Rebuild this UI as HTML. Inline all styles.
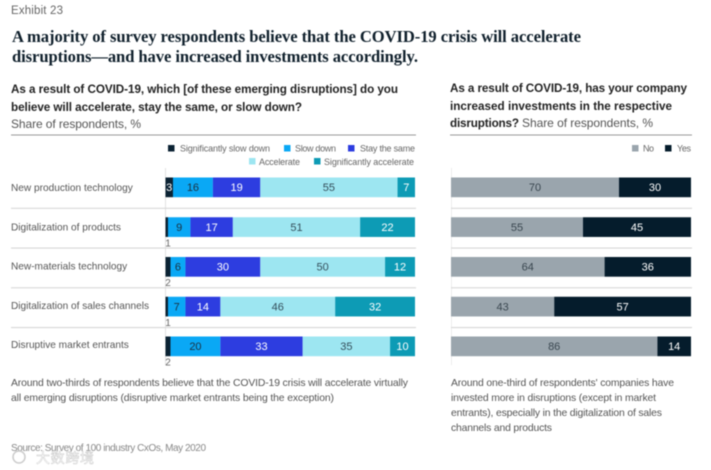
<!DOCTYPE html>
<html lang="en">
<head>
<meta charset="utf-8">
<title>Exhibit 23</title>
<style>
html,body{margin:0;padding:0;background:#fff;width:711px;height:470px;overflow:hidden}
svg{display:block;filter:blur(0.4px)}
text{font-family:"Liberation Sans","Noto Sans CJK SC",sans-serif}
.title{font-family:"Liberation Serif",serif;font-weight:700;font-size:16.6px;fill:#10202c}
.sub{font-size:11.7px;font-weight:700;fill:#222}
.share{font-size:12px;fill:#555}
.leg{font-size:9px;fill:#666}
.note{font-size:10.4px;fill:#555}
</style>
</head>
<body>
<svg id="chart" xmlns="http://www.w3.org/2000/svg" width="711" height="470" viewBox="0 0 711 470">
  <text x="11" y="14" font-size="11.5" fill="#666" textLength="52">Exhibit 23</text>
  <text class="title" x="12" y="42" textLength="569">A majority of survey respondents believe that the COVID-19 crisis will accelerate</text>
  <text class="title" x="12" y="62" textLength="406">disruptions—and have increased investments accordingly.</text>

  <text class="sub" x="11" y="93" textLength="387">As a result of COVID-19, which [of these emerging disruptions] do you</text>
  <text class="sub" x="11" y="111" textLength="291">believe will accelerate, stay the same, or slow down?</text>
  <text class="share" x="11" y="128" textLength="130">Share of respondents, %</text>
  <rect x="11" y="134.5" width="405" height="1" fill="#999"/>

  <text class="sub" x="450" y="92" textLength="237">As a result of COVID-19, has your company</text>
  <text class="sub" x="450" y="110" textLength="222">increased investments in the respective</text>
  <text class="sub" x="450" y="127" textLength="69">disruptions?</text>
  <text class="share" x="522" y="127" textLength="131">Share of respondents, %</text>
  <rect x="450" y="134.5" width="242" height="1" fill="#999"/>

  <g>
    <rect x="168" y="145" width="6.5" height="6.5" fill="#0b2233"/>
    <text class="leg" x="180" y="151.5" textLength="90">Significantly slow down</text>
    <rect x="284" y="145" width="6.5" height="6.5" fill="#0aa8f5"/>
    <text class="leg" x="295" y="151.5" textLength="41">Slow down</text>
    <rect x="348" y="145" width="6.5" height="6.5" fill="#2d3de0"/>
    <text class="leg" x="360" y="151.5" textLength="55">Stay the same</text>
    <rect x="249" y="158" width="6.5" height="6.5" fill="#9de6f1"/>
    <text class="leg" x="259" y="165" textLength="41">Accelerate</text>
    <rect x="314" y="158" width="6.5" height="6.5" fill="#0d9bb5"/>
    <text class="leg" x="324" y="165" textLength="90">Significantly accelerate</text>
  </g>
  <g>
    <rect x="632" y="145" width="6.5" height="6.5" fill="#9aa5ad"/>
    <text class="leg" x="643" y="151.5" textLength="11">No</text>
    <rect x="665" y="145" width="6.5" height="6.5" fill="#051c2c"/>
    <text class="leg" x="677" y="151.5" textLength="14">Yes</text>
  </g>

  <g id="plot"></g>

  <text class="note" x="11" y="386" textLength="397">Around two-thirds of respondents believe that the COVID-19 crisis will accelerate virtually</text>
  <text class="note" x="11" y="401" textLength="323">all emerging disruptions (disruptive market entrants being the exception)</text>
  <text class="note" x="451" y="386" textLength="223">Around one-third of respondents' companies have</text>
  <text class="note" x="451" y="401" textLength="205">invested more in disruptions (except in market</text>
  <text class="note" x="451" y="416" textLength="211">entrants), especially in the digitalization of sales</text>
  <text class="note" x="451" y="431" textLength="101">channels and products</text>
  <text x="11" y="451" font-size="10" fill="#888" textLength="195">Source: Survey of 100 industry CxOs, May 2020</text>
  <circle cx="19" cy="457" r="6" fill="none" stroke="#ccc" stroke-width="1.5"/>
  <text x="36" y="463" font-size="14" fill="#fff" stroke="#c4c4c4" stroke-width="0.4" textLength="58">大数跨境</text>
</svg>
<script>
const categories = ["New production technology", "Digitalization of products", "New-materials technology", "Digitalization of sales channels", "Disruptive market entrants"];
const significantlySlowDown = [3, 1, 2, 1, 2];
const slowDown = [16, 9, 6, 7, 20];
const stayTheSame = [19, 17, 30, 14, 33];
const accelerate = [55, 51, 50, 46, 35];
const significantlyAccelerate = [7, 22, 12, 32, 10];
const investNo = [70, 55, 64, 43, 86];
const investYes = [30, 45, 36, 57, 14];

const NS = "http://www.w3.org/2000/svg";
const plot = document.getElementById("plot");

const leftX = v => 165.5 + v * 2.495;
const rightX = v => 451 + v * 2.4;
const rowTop = i => 177.5 + i * 39.75;
const labelY = i => 191 + i * 39.25;
const BAR_H = 19.7;

function makeRect(x, y, w, h, fill) {
  const r = document.createElementNS(NS, "rect");
  r.setAttribute("x", x);
  r.setAttribute("y", y);
  r.setAttribute("width", w);
  r.setAttribute("height", h);
  r.setAttribute("fill", fill);
  plot.appendChild(r);
  return r;
}
function makeText(x, y, str, size, fill, anchor) {
  const t = document.createElementNS(NS, "text");
  t.setAttribute("x", x);
  t.setAttribute("y", y);
  t.setAttribute("font-size", size);
  t.setAttribute("fill", fill);
  t.setAttribute("text-anchor", anchor);
  t.textContent = str;
  plot.appendChild(t);
  return t;
}

const leftAxis = makeRect(165, 168, 1, 197, "#e2e2e2");


const rightAxis = makeRect(451, 168, 1, 197, "#ececec");



const leftSeries = [
  {key: "significantly-slow-down", values: significantlySlowDown, fill: "#0b2233", ink: "#fff"},
  {key: "slow-down", values: slowDown, fill: "#0aa8f5", ink: "#1c3140"},
  {key: "stay-the-same", values: stayTheSame, fill: "#2d3de0", ink: "#fff"},
  {key: "accelerate", values: accelerate, fill: "#9de6f1", ink: "#35505c"},
  {key: "significantly-accelerate", values: significantlyAccelerate, fill: "#0d9bb5", ink: "#fff"}
];
const rightSeries = [
  {key: "no", values: investNo, fill: "#9aa5ad", ink: "#3a4750"},
  {key: "yes", values: investYes, fill: "#051c2c", ink: "#fff"}
];

categories.forEach((cat, i) => {
  const y = rowTop(i);

  const label = makeText(11, labelY(i), cat, 10.1, "#555", "start");
  
  

  if (i < categories.length - 1) {
    const sepL = makeRect(11, y + 30.3, 405, 1, "#d4d4d4");
    
    
    const sepR = makeRect(451, y + 30.3, 241, 1, "#d4d4d4");
    
    
  }

  let cum = 0;
  leftSeries.forEach(s => {
    const v = s.values[i];
    const x0 = leftX(cum);
    const x1 = leftX(cum + v);
    const bar = makeRect(x0, y, x1 - x0, BAR_H, s.fill);
    
    
    const small = v < 3;
    const val = small
      ? makeText(x0 + 2.5, y + BAR_H + 9.5, v, 10, "#666", "middle")
      : makeText((x0 + x1) / 2, y + 13.5, v, 11, s.ink, "middle");
    
    
    cum += v;
  });

  let cumR = 0;
  rightSeries.forEach(s => {
    const v = s.values[i];
    const x0 = rightX(cumR);
    const x1 = rightX(cumR + v);
    const bar = makeRect(x0, y, x1 - x0, BAR_H, s.fill);
    
    
    const val = makeText((x0 + x1) / 2, y + 13.5, v, 11, s.ink, "middle");
    
    
    cumR += v;
  });
});
</script>
</body>
</html>
